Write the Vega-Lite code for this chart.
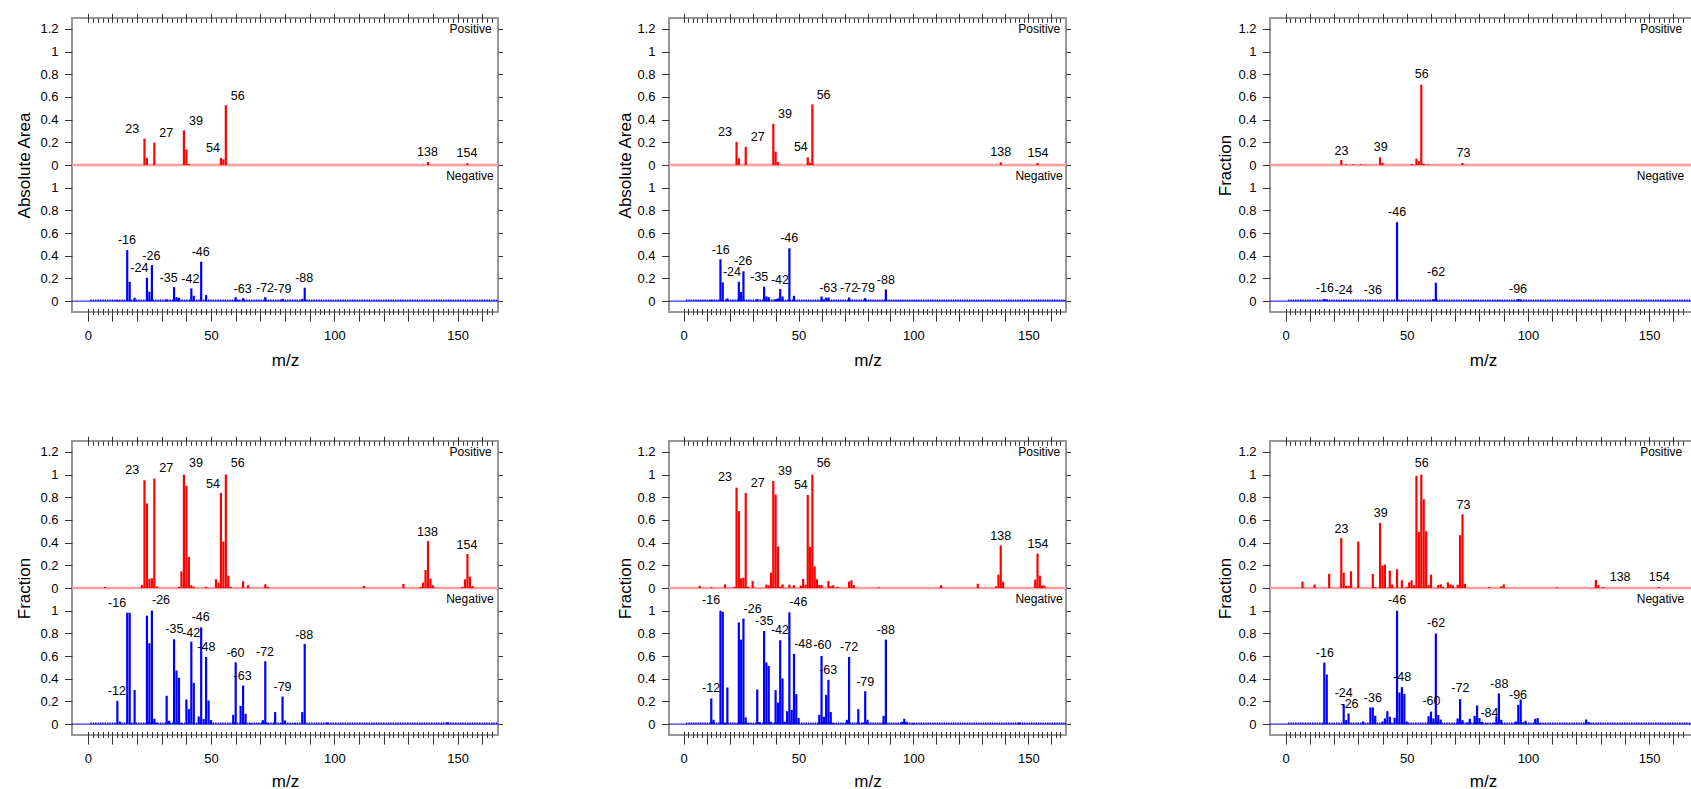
{
  "$schema": "https://vega.github.io/schema/vega-lite/v6.json",
  "padding": {"left": 14, "top": 11, "right": 0, "bottom": 0},
  "background": "white",
  "columns": 5,
  "spacing": {"row": 129, "column": 0},
  "bounds": "flush",
  "datasets": {
    "p1p": [{"mz":23,"v":0.232},{"mz":24,"v":0.062},{"mz":27,"v":0.197},{"mz":39,"v":0.306},{"mz":40,"v":0.135},{"mz":41,"v":0.01},{"mz":54,"v":0.062},{"mz":55,"v":0.05},{"mz":56,"v":0.527},{"mz":138,"v":0.026},{"mz":154,"v":0.015}],
    "p1pl": [{"x":18,"y":0.32,"t":"23"},{"x":31.8,"y":0.285,"t":"27"},{"x":43.9,"y":0.39,"t":"39"},{"x":50.8,"y":0.15,"t":"54"},{"x":60.8,"y":0.61,"t":"56"},{"x":137.8,"y":0.115,"t":"138"},{"x":153.8,"y":0.103,"t":"154"}],
    "p1n": [{"mz":12,"v":0.01},{"mz":16,"v":0.45},{"mz":17,"v":0.17},{"mz":19,"v":0.03},{"mz":24,"v":0.206},{"mz":25,"v":0.082},{"mz":26,"v":0.318},{"mz":32,"v":0.015},{"mz":35,"v":0.124},{"mz":36,"v":0.035},{"mz":37,"v":0.03},{"mz":42,"v":0.112},{"mz":43,"v":0.047},{"mz":46,"v":0.347},{"mz":48,"v":0.053},{"mz":60,"v":0.035},{"mz":61,"v":0.01},{"mz":63,"v":0.026},{"mz":72,"v":0.035},{"mz":79,"v":0.02},{"mz":87,"v":0.02},{"mz":88,"v":0.118}],
    "p1nl": [{"x":15.9,"y":0.535,"t":"-16"},{"x":20.9,"y":0.29,"t":"-24"},{"x":25.8,"y":0.4,"t":"-26"},{"x":32.8,"y":0.2,"t":"-35"},{"x":41.6,"y":0.197,"t":"-42"},{"x":45.8,"y":0.43,"t":"-46"},{"x":62.8,"y":0.11,"t":"-63"},{"x":71.9,"y":0.12,"t":"-72"},{"x":79,"y":0.11,"t":"-79"},{"x":87.8,"y":0.2,"t":"-88"}],
    "p2p": [{"mz":23,"v":0.204},{"mz":24,"v":0.059},{"mz":27,"v":0.16},{"mz":39,"v":0.363},{"mz":40,"v":0.118},{"mz":41,"v":0.027},{"mz":54,"v":0.068},{"mz":55,"v":0.02},{"mz":56,"v":0.534},{"mz":138,"v":0.024},{"mz":154,"v":0.018}],
    "p2pl": [{"x":18,"y":0.292,"t":"23"},{"x":32.2,"y":0.248,"t":"27"},{"x":44.1,"y":0.45,"t":"39"},{"x":51,"y":0.156,"t":"54"},{"x":60.9,"y":0.617,"t":"56"},{"x":138,"y":0.115,"t":"138"},{"x":154.2,"y":0.103,"t":"154"}],
    "p2n": [{"mz":12,"v":0.012},{"mz":16,"v":0.369},{"mz":17,"v":0.165},{"mz":19,"v":0.024},{"mz":24,"v":0.171},{"mz":25,"v":0.08},{"mz":26,"v":0.263},{"mz":32,"v":0.018},{"mz":35,"v":0.127},{"mz":36,"v":0.041},{"mz":37,"v":0.035},{"mz":40,"v":0.018},{"mz":41,"v":0.024},{"mz":42,"v":0.106},{"mz":43,"v":0.041},{"mz":46,"v":0.466},{"mz":48,"v":0.047},{"mz":60,"v":0.041},{"mz":61,"v":0.015},{"mz":62,"v":0.03},{"mz":63,"v":0.032},{"mz":72,"v":0.032},{"mz":79,"v":0.027},{"mz":88,"v":0.103}],
    "p2nl": [{"x":16.1,"y":0.448,"t":"-16"},{"x":21,"y":0.26,"t":"-24"},{"x":25.9,"y":0.354,"t":"-26"},{"x":32.9,"y":0.21,"t":"-35"},{"x":41.9,"y":0.19,"t":"-42"},{"x":45.9,"y":0.555,"t":"-46"},{"x":62.9,"y":0.118,"t":"-63"},{"x":72,"y":0.118,"t":"-72"},{"x":79.3,"y":0.118,"t":"-79"},{"x":88,"y":0.19,"t":"-88"}],
    "p3p": [{"mz":23,"v":0.044},{"mz":25,"v":0.006},{"mz":28,"v":0.006},{"mz":31,"v":0.006},{"mz":39,"v":0.068},{"mz":40,"v":0.02},{"mz":52,"v":0.008},{"mz":54,"v":0.056},{"mz":55,"v":0.035},{"mz":56,"v":0.708},{"mz":57,"v":0.012},{"mz":59,"v":0.006},{"mz":73,"v":0.018}],
    "p3pl": [{"x":23.1,"y":0.127,"t":"23"},{"x":39.3,"y":0.156,"t":"39"},{"x":56.2,"y":0.8,"t":"56"},{"x":73.4,"y":0.103,"t":"73"}],
    "p3n": [{"mz":16,"v":0.02},{"mz":17,"v":0.015},{"mz":24,"v":0.008},{"mz":35,"v":0.008},{"mz":46,"v":0.696},{"mz":48,"v":0.008},{"mz":61,"v":0.018},{"mz":62,"v":0.162},{"mz":78,"v":0.008},{"mz":88,"v":0.006},{"mz":96,"v":0.018},{"mz":97,"v":0.015}],
    "p3nl": [{"x":16.2,"y":0.115,"t":"-16"},{"x":24,"y":0.1,"t":"-24"},{"x":36,"y":0.097,"t":"-36"},{"x":46,"y":0.785,"t":"-46"},{"x":62.1,"y":0.254,"t":"-62"},{"x":95.9,"y":0.106,"t":"-96"}],
    "p4p": [{"mz":7,"v":0.01},{"mz":22,"v":0.027},{"mz":23,"v":0.95},{"mz":24,"v":0.746},{"mz":25,"v":0.08},{"mz":26,"v":0.086},{"mz":27,"v":0.965},{"mz":28,"v":0.015},{"mz":37,"v":0.01},{"mz":38,"v":0.147},{"mz":39,"v":1.0},{"mz":40,"v":0.9},{"mz":41,"v":0.274},{"mz":42,"v":0.024},{"mz":43,"v":0.012},{"mz":48,"v":0.01},{"mz":52,"v":0.077},{"mz":53,"v":0.047},{"mz":54,"v":0.838},{"mz":55,"v":0.41},{"mz":56,"v":1.0},{"mz":57,"v":0.109},{"mz":58,"v":0.01},{"mz":63,"v":0.059},{"mz":65,"v":0.024},{"mz":72,"v":0.032},{"mz":73,"v":0.01},{"mz":112,"v":0.018},{"mz":128,"v":0.035},{"mz":135,"v":0.01},{"mz":136,"v":0.047},{"mz":137,"v":0.16},{"mz":138,"v":0.413},{"mz":139,"v":0.083},{"mz":140,"v":0.024},{"mz":152,"v":0.01},{"mz":153,"v":0.077},{"mz":154,"v":0.3},{"mz":155,"v":0.1},{"mz":156,"v":0.018}],
    "p4pl": [{"x":18,"y":1.038,"t":"23"},{"x":31.8,"y":1.059,"t":"27"},{"x":43.9,"y":1.1,"t":"39"},{"x":50.8,"y":0.92,"t":"54"},{"x":60.8,"y":1.1,"t":"56"},{"x":137.8,"y":0.493,"t":"138"},{"x":153.8,"y":0.38,"t":"154"}],
    "p4n": [{"mz":12,"v":0.205},{"mz":13,"v":0.023},{"mz":16,"v":0.982},{"mz":17,"v":0.982},{"mz":19,"v":0.3},{"mz":24,"v":0.956},{"mz":25,"v":0.713},{"mz":26,"v":1.0},{"mz":27,"v":0.047},{"mz":28,"v":0.012},{"mz":32,"v":0.25},{"mz":33,"v":0.03},{"mz":35,"v":0.748},{"mz":36,"v":0.472},{"mz":37,"v":0.408},{"mz":38,"v":0.01},{"mz":40,"v":0.217},{"mz":41,"v":0.132},{"mz":42,"v":0.727},{"mz":43,"v":0.364},{"mz":45,"v":0.067},{"mz":46,"v":0.853},{"mz":47,"v":0.044},{"mz":48,"v":0.592},{"mz":49,"v":0.208},{"mz":50,"v":0.035},{"mz":59,"v":0.082},{"mz":60,"v":0.545},{"mz":62,"v":0.161},{"mz":63,"v":0.34},{"mz":64,"v":0.091},{"mz":66,"v":0.01},{"mz":71,"v":0.035},{"mz":72,"v":0.554},{"mz":73,"v":0.012},{"mz":76,"v":0.106},{"mz":79,"v":0.243},{"mz":80,"v":0.032},{"mz":84,"v":0.01},{"mz":87,"v":0.106},{"mz":88,"v":0.707},{"mz":97,"v":0.015},{"mz":146,"v":0.018}],
    "p4nl": [{"x":11.8,"y":0.29,"t":"-12"},{"x":11.9,"y":1.07,"t":"-16"},{"x":29.7,"y":1.09,"t":"-26"},{"x":35.1,"y":0.836,"t":"-35"},{"x":41.9,"y":0.8,"t":"-42"},{"x":45.8,"y":0.944,"t":"-46"},{"x":48.1,"y":0.68,"t":"-48"},{"x":59.9,"y":0.63,"t":"-60"},{"x":62.8,"y":0.42,"t":"-63"},{"x":71.9,"y":0.64,"t":"-72"},{"x":79,"y":0.33,"t":"-79"},{"x":87.8,"y":0.79,"t":"-88"}],
    "p5p": [{"mz":7,"v":0.02},{"mz":12,"v":0.008},{"mz":18,"v":0.032},{"mz":22,"v":0.01},{"mz":23,"v":0.885},{"mz":24,"v":0.678},{"mz":25,"v":0.086},{"mz":26,"v":0.091},{"mz":27,"v":0.838},{"mz":28,"v":0.01},{"mz":30,"v":0.062},{"mz":36,"v":0.03},{"mz":37,"v":0.024},{"mz":38,"v":0.136},{"mz":39,"v":0.944},{"mz":40,"v":0.823},{"mz":41,"v":0.366},{"mz":42,"v":0.01},{"mz":43,"v":0.032},{"mz":46,"v":0.03},{"mz":48,"v":0.024},{"mz":51,"v":0.02},{"mz":52,"v":0.08},{"mz":53,"v":0.03},{"mz":54,"v":0.82},{"mz":55,"v":0.363},{"mz":56,"v":1.0},{"mz":57,"v":0.19},{"mz":58,"v":0.077},{"mz":59,"v":0.027},{"mz":60,"v":0.027},{"mz":63,"v":0.062},{"mz":64,"v":0.015},{"mz":65,"v":0.024},{"mz":67,"v":0.01},{"mz":72,"v":0.056},{"mz":73,"v":0.068},{"mz":74,"v":0.027},{"mz":85,"v":0.006},{"mz":112,"v":0.024},{"mz":128,"v":0.038},{"mz":136,"v":0.015},{"mz":137,"v":0.118},{"mz":138,"v":0.375},{"mz":139,"v":0.056},{"mz":153,"v":0.074},{"mz":154,"v":0.304},{"mz":155,"v":0.109},{"mz":156,"v":0.024},{"mz":157,"v":0.02}],
    "p5pl": [{"x":18,"y":0.976,"t":"23"},{"x":32.2,"y":0.926,"t":"27"},{"x":44.1,"y":1.03,"t":"39"},{"x":51,"y":0.906,"t":"54"},{"x":60.9,"y":1.1,"t":"56"},{"x":138,"y":0.457,"t":"138"},{"x":154.2,"y":0.39,"t":"154"}],
    "p5n": [{"mz":12,"v":0.226},{"mz":13,"v":0.038},{"mz":16,"v":1.0},{"mz":17,"v":0.99},{"mz":18,"v":0.012},{"mz":19,"v":0.323},{"mz":24,"v":0.897},{"mz":25,"v":0.745},{"mz":26,"v":0.93},{"mz":27,"v":0.059},{"mz":28,"v":0.01},{"mz":32,"v":0.305},{"mz":33,"v":0.018},{"mz":35,"v":0.821},{"mz":36,"v":0.543},{"mz":37,"v":0.513},{"mz":38,"v":0.02},{"mz":40,"v":0.3},{"mz":41,"v":0.19},{"mz":42,"v":0.739},{"mz":43,"v":0.402},{"mz":44,"v":0.02},{"mz":45,"v":0.114},{"mz":46,"v":0.985},{"mz":47,"v":0.126},{"mz":48,"v":0.619},{"mz":49,"v":0.264},{"mz":50,"v":0.053},{"mz":59,"v":0.082},{"mz":60,"v":0.601},{"mz":61,"v":0.065},{"mz":62,"v":0.258},{"mz":63,"v":0.39},{"mz":64,"v":0.106},{"mz":65,"v":0.01},{"mz":71,"v":0.038},{"mz":72,"v":0.592},{"mz":76,"v":0.132},{"mz":78,"v":0.012},{"mz":79,"v":0.29},{"mz":80,"v":0.038},{"mz":87,"v":0.073},{"mz":88,"v":0.745},{"mz":95,"v":0.02},{"mz":96,"v":0.047},{"mz":97,"v":0.02},{"mz":100,"v":0.01},{"mz":146,"v":0.015}],
    "p5nl": [{"x":11.9,"y":0.314,"t":"-12"},{"x":11.9,"y":1.09,"t":"-16"},{"x":30,"y":1.018,"t":"-26"},{"x":35.1,"y":0.906,"t":"-35"},{"x":41.9,"y":0.827,"t":"-42"},{"x":49.9,"y":1.076,"t":"-46"},{"x":52,"y":0.71,"t":"-48"},{"x":60.4,"y":0.695,"t":"-60"},{"x":62.9,"y":0.478,"t":"-63"},{"x":72,"y":0.677,"t":"-72"},{"x":79,"y":0.372,"t":"-79"},{"x":88,"y":0.827,"t":"-88"}],
    "p6p": [{"mz":7,"v":0.056},{"mz":12,"v":0.03},{"mz":18,"v":0.124},{"mz":23,"v":0.44},{"mz":24,"v":0.136},{"mz":25,"v":0.02},{"mz":26,"v":0.02},{"mz":27,"v":0.147},{"mz":30,"v":0.41},{"mz":36,"v":0.124},{"mz":37,"v":0.008},{"mz":39,"v":0.575},{"mz":40,"v":0.198},{"mz":41,"v":0.206},{"mz":43,"v":0.153},{"mz":44,"v":0.03},{"mz":46,"v":0.165},{"mz":48,"v":0.068},{"mz":50,"v":0.008},{"mz":51,"v":0.05},{"mz":52,"v":0.068},{"mz":53,"v":0.024},{"mz":54,"v":0.988},{"mz":55,"v":0.493},{"mz":56,"v":1.0},{"mz":57,"v":0.782},{"mz":58,"v":0.5},{"mz":59,"v":0.024},{"mz":60,"v":0.118},{"mz":63,"v":0.027},{"mz":64,"v":0.032},{"mz":65,"v":0.01},{"mz":67,"v":0.05},{"mz":68,"v":0.032},{"mz":69,"v":0.024},{"mz":71,"v":0.03},{"mz":72,"v":0.466},{"mz":73,"v":0.65},{"mz":74,"v":0.038},{"mz":84,"v":0.008},{"mz":89,"v":0.015},{"mz":90,"v":0.032},{"mz":112,"v":0.006},{"mz":128,"v":0.071},{"mz":129,"v":0.027},{"mz":131,"v":0.008},{"mz":154,"v":0.008}],
    "p6pl": [{"x":23.1,"y":0.522,"t":"23"},{"x":39.3,"y":0.664,"t":"39"},{"x":56.2,"y":1.1,"t":"56"},{"x":73.4,"y":0.735,"t":"73"},{"x":138,"y":0.094,"t":"138"},{"x":154.1,"y":0.094,"t":"154"}],
    "p6n": [{"mz":16,"v":0.543},{"mz":17,"v":0.437},{"mz":24,"v":0.173},{"mz":25,"v":0.035},{"mz":26,"v":0.094},{"mz":32,"v":0.023},{"mz":35,"v":0.147},{"mz":36,"v":0.147},{"mz":37,"v":0.073},{"mz":40,"v":0.023},{"mz":41,"v":0.05},{"mz":42,"v":0.114},{"mz":43,"v":0.065},{"mz":45,"v":0.056},{"mz":46,"v":1.0},{"mz":47,"v":0.279},{"mz":48,"v":0.326},{"mz":49,"v":0.267},{"mz":50,"v":0.023},{"mz":59,"v":0.07},{"mz":60,"v":0.11},{"mz":61,"v":0.05},{"mz":62,"v":0.798},{"mz":63,"v":0.08},{"mz":64,"v":0.04},{"mz":71,"v":0.05},{"mz":72,"v":0.22},{"mz":73,"v":0.035},{"mz":75,"v":0.015},{"mz":76,"v":0.047},{"mz":78,"v":0.073},{"mz":79,"v":0.164},{"mz":80,"v":0.053},{"mz":81,"v":0.02},{"mz":83,"v":0.008},{"mz":86,"v":0.012},{"mz":87,"v":0.065},{"mz":88,"v":0.27},{"mz":89,"v":0.038},{"mz":95,"v":0.023},{"mz":96,"v":0.17},{"mz":97,"v":0.217},{"mz":98,"v":0.015},{"mz":99,"v":0.03},{"mz":103,"v":0.047},{"mz":104,"v":0.053},{"mz":105,"v":0.01},{"mz":124,"v":0.041},{"mz":125,"v":0.018}],
    "p6nl": [{"x":16.2,"y":0.63,"t":"-16"},{"x":24,"y":0.27,"t":"-24"},{"x":26.4,"y":0.179,"t":"-26"},{"x":36,"y":0.226,"t":"-36"},{"x":46,"y":1.09,"t":"-46"},{"x":48.1,"y":0.416,"t":"-48"},{"x":60.2,"y":0.2,"t":"-60"},{"x":62.1,"y":0.889,"t":"-62"},{"x":72.1,"y":0.314,"t":"-72"},{"x":84.1,"y":0.094,"t":"-84"},{"x":88.2,"y":0.358,"t":"-88"},{"x":95.9,"y":0.261,"t":"-96"}]
  },
  "concat": [
    {
      "width": 426, "height": 294,
      "resolve": {"scale": {"y": "independent"}, "axis": {"x": "independent", "y": "independent"}},
      "layer": [
        {"layer": [
          {"data": {"values": [{}]}, "mark": {"type": "rule", "stroke": "#0000ff", "strokeWidth": 1},
           "encoding": {"y": {"datum": 0, "type": "quantitative", "scale": {"domain": [-0.096, 2.496], "nice": false, "zero": false},
             "axis": {"orient": "left", "tickCount": 500, "values": [0,0.2,0.4,0.6,0.8,1,1.2,1.4,1.6,1.8,2,2.2,2.4], "labelExpr": "datum.value > 1.1 ? format(datum.value - 1.2, '.1~f') : format(datum.value, '.1~f')", "tickSize": 7.5, "labelPadding": 6.5, "labelFontSize": 13, "labelOverlap": false, "labelFlush": false, "minExtent": 32, "maxExtent": 32, "title": "Absolute Area", "titleFontSize": 17, "titlePadding": 6.3}}}},
          {"data": {"values": [{}]}, "mark": {"type": "rule", "stroke": "#0000ff", "strokeWidth": 1.6, "strokeDash": [1.4, 1]},
           "encoding": {"x": {"datum": 1, "type": "quantitative", "scale": {"domain": [-6.4, 166.4], "nice": false, "zero": false},
             "axis": {"orient": "bottom", "tickCount": 500, "values": [0,2,4,6,8,10,12,14,16,18,20,22,24,26,28,30,32,34,36,38,40,42,44,46,48,50,52,54,56,58,60,62,64,66,68,70,72,74,76,78,80,82,84,86,88,90,92,94,96,98,100,102,104,106,108,110,112,114,116,118,120,122,124,126,128,130,132,134,136,138,140,142,144,146,148,150,152,154,156,158,160,162,164], "offset": -3.5, "tickSize": {"condition": {"test": "datum.value % 10 === 0", "value": 12.6}, "value": 6}, "labelExpr": "datum.value % 50 === 0 ? format(datum.value, 'd') : ''", "labelFontSize": 13, "labelPadding": 8, "labelOverlap": false, "labelFlush": false, "minExtent": 30, "maxExtent": 30, "title": "m/z", "titleFontSize": 17, "titlePadding": 14}},
             "x2": {"datum": 166.4}, "y": {"datum": 0.008, "type": "quantitative"}}},
          {"data": {"name": "p1n"}, "mark": {"type": "rule", "stroke": "#0000ff", "strokeWidth": 2.2},
           "encoding": {"x": {"field": "mz", "type": "quantitative"}, "y": {"field": "v", "type": "quantitative"}, "y2": {"datum": 0}}},
          {"data": {"name": "p1nl"}, "mark": {"type": "text", "fontSize": 12.5, "baseline": "middle"},
           "encoding": {"x": {"field": "x", "type": "quantitative"}, "y": {"field": "y", "type": "quantitative"}, "text": {"field": "t"}}},
          {"data": {"values": [{}]}, "mark": {"type": "text", "fontSize": 12, "align": "right", "baseline": "middle"},
           "encoding": {"x": {"datum": 163.8, "type": "quantitative"}, "y": {"datum": 2.4, "type": "quantitative"}, "text": {"value": "Positive"}}},
          {"data": {"values": [{}]}, "mark": {"type": "text", "fontSize": 12, "align": "right", "baseline": "middle"},
           "encoding": {"x": {"datum": 164.6, "type": "quantitative"}, "y": {"datum": 1.103, "type": "quantitative"}, "text": {"value": "Negative"}}}
        ]},
        {"layer": [
          {"data": {"values": [{}]}, "mark": {"type": "rule", "stroke": "#ff9c9c", "strokeWidth": 2.5},
           "encoding": {"y": {"datum": 0, "type": "quantitative", "scale": {"domain": [-1.296, 1.296], "nice": false, "zero": false},
             "axis": {"orient": "right", "tickCount": 500, "values": [-1.2,-1,-0.8,-0.6,-0.4,-0.2,0,0.2,0.4,0.6,0.8,1,1.2], "labels": false, "tickSize": 4.5, "title": null}}}},
          {"data": {"name": "p1p"}, "mark": {"type": "rule", "stroke": "#ff0000", "strokeWidth": 2.2},
           "encoding": {"x": {"field": "mz", "type": "quantitative", "scale": {"domain": [-6.4, 166.4], "nice": false, "zero": false},
             "axis": {"orient": "top", "tickCount": 500, "values": [0,2,4,6,8,10,12,14,16,18,20,22,24,26,28,30,32,34,36,38,40,42,44,46,48,50,52,54,56,58,60,62,64,66,68,70,72,74,76,78,80,82,84,86,88,90,92,94,96,98,100,102,104,106,108,110,112,114,116,118,120,122,124,126,128,130,132,134,136,138,140,142,144,146,148,150,152,154,156,158,160,162,164], "offset": -4.3, "tickSize": {"condition": {"test": "datum.value % 10 === 0", "value": 9}, "value": 4.3}, "labels": false, "title": null}},
             "y": {"field": "v", "type": "quantitative"}, "y2": {"datum": 0}}},
          {"data": {"name": "p1pl"}, "mark": {"type": "text", "fontSize": 12.5, "baseline": "middle"},
           "encoding": {"x": {"field": "x", "type": "quantitative"}, "y": {"field": "y", "type": "quantitative"}, "text": {"field": "t"}}}
        ]}
      ]
    },
    {"width": 171, "height": 294, "data": {"values": [{}]}, "mark": {"type": "text"}, "encoding": {"text": {"value": ""}}, "view": {"stroke": null}},
    {
      "width": 397, "height": 294,
      "resolve": {"scale": {"y": "independent"}, "axis": {"x": "independent", "y": "independent"}},
      "layer": [
        {"layer": [
          {"data": {"values": [{}]}, "mark": {"type": "rule", "stroke": "#0000ff", "strokeWidth": 1},
           "encoding": {"y": {"datum": 0, "type": "quantitative", "scale": {"domain": [-0.096, 2.496], "nice": false, "zero": false},
             "axis": {"orient": "left", "tickCount": 500, "values": [0,0.2,0.4,0.6,0.8,1,1.2,1.4,1.6,1.8,2,2.2,2.4], "labelExpr": "datum.value > 1.1 ? format(datum.value - 1.2, '.1~f') : format(datum.value, '.1~f')", "tickSize": 7.5, "labelPadding": 6.5, "labelFontSize": 13, "labelOverlap": false, "labelFlush": false, "minExtent": 32, "maxExtent": 32, "title": "Absolute Area", "titleFontSize": 17, "titlePadding": 2.4}}}},
          {"data": {"values": [{}]}, "mark": {"type": "rule", "stroke": "#0000ff", "strokeWidth": 1.6, "strokeDash": [1.4, 0.9]},
           "encoding": {"x": {"datum": 1, "type": "quantitative", "scale": {"domain": [-6.4, 166.4], "nice": false, "zero": false},
             "axis": {"orient": "bottom", "tickCount": 500, "values": [0,2,4,6,8,10,12,14,16,18,20,22,24,26,28,30,32,34,36,38,40,42,44,46,48,50,52,54,56,58,60,62,64,66,68,70,72,74,76,78,80,82,84,86,88,90,92,94,96,98,100,102,104,106,108,110,112,114,116,118,120,122,124,126,128,130,132,134,136,138,140,142,144,146,148,150,152,154,156,158,160,162,164], "offset": -3.5, "tickSize": {"condition": {"test": "datum.value % 10 === 0", "value": 12.6}, "value": 6}, "labelExpr": "datum.value % 50 === 0 ? format(datum.value, 'd') : ''", "labelFontSize": 13, "labelPadding": 8, "labelOverlap": false, "labelFlush": false, "minExtent": 30, "maxExtent": 30, "title": "m/z", "titleFontSize": 17, "titlePadding": 14}},
             "x2": {"datum": 166.4}, "y": {"datum": 0.008, "type": "quantitative"}}},
          {"data": {"name": "p2n"}, "mark": {"type": "rule", "stroke": "#0000ff", "strokeWidth": 2.2},
           "encoding": {"x": {"field": "mz", "type": "quantitative"}, "y": {"field": "v", "type": "quantitative"}, "y2": {"datum": 0}}},
          {"data": {"name": "p2nl"}, "mark": {"type": "text", "fontSize": 12.5, "baseline": "middle"},
           "encoding": {"x": {"field": "x", "type": "quantitative"}, "y": {"field": "y", "type": "quantitative"}, "text": {"field": "t"}}},
          {"data": {"values": [{}]}, "mark": {"type": "text", "fontSize": 12, "align": "right", "baseline": "middle"},
           "encoding": {"x": {"datum": 163.9, "type": "quantitative"}, "y": {"datum": 2.4, "type": "quantitative"}, "text": {"value": "Positive"}}},
          {"data": {"values": [{}]}, "mark": {"type": "text", "fontSize": 12, "align": "right", "baseline": "middle"},
           "encoding": {"x": {"datum": 165, "type": "quantitative"}, "y": {"datum": 1.103, "type": "quantitative"}, "text": {"value": "Negative"}}}
        ]},
        {"layer": [
          {"data": {"values": [{}]}, "mark": {"type": "rule", "stroke": "#ff9c9c", "strokeWidth": 2.5},
           "encoding": {"y": {"datum": 0, "type": "quantitative", "scale": {"domain": [-1.296, 1.296], "nice": false, "zero": false},
             "axis": {"orient": "right", "tickCount": 500, "values": [-1.2,-1,-0.8,-0.6,-0.4,-0.2,0,0.2,0.4,0.6,0.8,1,1.2], "labels": false, "tickSize": 4.5, "title": null}}}},
          {"data": {"name": "p2p"}, "mark": {"type": "rule", "stroke": "#ff0000", "strokeWidth": 2.2},
           "encoding": {"x": {"field": "mz", "type": "quantitative", "scale": {"domain": [-6.4, 166.4], "nice": false, "zero": false},
             "axis": {"orient": "top", "tickCount": 500, "values": [0,2,4,6,8,10,12,14,16,18,20,22,24,26,28,30,32,34,36,38,40,42,44,46,48,50,52,54,56,58,60,62,64,66,68,70,72,74,76,78,80,82,84,86,88,90,92,94,96,98,100,102,104,106,108,110,112,114,116,118,120,122,124,126,128,130,132,134,136,138,140,142,144,146,148,150,152,154,156,158,160,162,164], "offset": -4.3, "tickSize": {"condition": {"test": "datum.value % 10 === 0", "value": 9}, "value": 4.3}, "labels": false, "title": null}},
             "y": {"field": "v", "type": "quantitative"}, "y2": {"datum": 0}}},
          {"data": {"name": "p2pl"}, "mark": {"type": "text", "fontSize": 12.5, "baseline": "middle"},
           "encoding": {"x": {"field": "x", "type": "quantitative"}, "y": {"field": "y", "type": "quantitative"}, "text": {"field": "t"}}}
        ]}
      ]
    },
    {"width": 204, "height": 294, "data": {"values": [{}]}, "mark": {"type": "text"}, "encoding": {"text": {"value": ""}}, "view": {"stroke": null}},
    {
      "width": 426, "height": 294,
      "resolve": {"scale": {"y": "independent"}, "axis": {"x": "independent", "y": "independent"}},
      "layer": [
        {"layer": [
          {"data": {"values": [{}]}, "mark": {"type": "rule", "stroke": "#0000ff", "strokeWidth": 1},
           "encoding": {"y": {"datum": 0, "type": "quantitative", "scale": {"domain": [-0.096, 2.496], "nice": false, "zero": false},
             "axis": {"orient": "left", "tickCount": 500, "values": [0,0.2,0.4,0.6,0.8,1,1.2,1.4,1.6,1.8,2,2.2,2.4], "labelExpr": "datum.value > 1.1 ? format(datum.value - 1.2, '.1~f') : format(datum.value, '.1~f')", "tickSize": 7.5, "labelPadding": 6.5, "labelFontSize": 13, "labelOverlap": false, "labelFlush": false, "minExtent": 32, "maxExtent": 32, "title": "Fraction", "titleFontSize": 17, "titlePadding": 3.6}}}},
          {"data": {"values": [{}]}, "mark": {"type": "rule", "stroke": "#0000ff", "strokeWidth": 1.6, "strokeDash": [1.4, 1]},
           "encoding": {"x": {"datum": 1, "type": "quantitative", "scale": {"domain": [-6.4, 169.3], "nice": false, "zero": false},
             "axis": {"orient": "bottom", "tickCount": 500, "values": [0,2,4,6,8,10,12,14,16,18,20,22,24,26,28,30,32,34,36,38,40,42,44,46,48,50,52,54,56,58,60,62,64,66,68,70,72,74,76,78,80,82,84,86,88,90,92,94,96,98,100,102,104,106,108,110,112,114,116,118,120,122,124,126,128,130,132,134,136,138,140,142,144,146,148,150,152,154,156,158,160,162,164], "offset": -3.5, "tickSize": {"condition": {"test": "datum.value % 10 === 0", "value": 12.6}, "value": 6}, "labelExpr": "datum.value % 50 === 0 ? format(datum.value, 'd') : ''", "labelFontSize": 13, "labelPadding": 8, "labelOverlap": false, "labelFlush": false, "minExtent": 30, "maxExtent": 30, "title": "m/z", "titleFontSize": 17, "titlePadding": 14}},
             "x2": {"datum": 169.3}, "y": {"datum": 0.008, "type": "quantitative"}}},
          {"data": {"name": "p3n"}, "mark": {"type": "rule", "stroke": "#0000ff", "strokeWidth": 2.2},
           "encoding": {"x": {"field": "mz", "type": "quantitative"}, "y": {"field": "v", "type": "quantitative"}, "y2": {"datum": 0}}},
          {"data": {"name": "p3nl"}, "mark": {"type": "text", "fontSize": 12.5, "baseline": "middle"},
           "encoding": {"x": {"field": "x", "type": "quantitative"}, "y": {"field": "y", "type": "quantitative"}, "text": {"field": "t"}}},
          {"data": {"values": [{}]}, "mark": {"type": "text", "fontSize": 12, "align": "right", "baseline": "middle"},
           "encoding": {"x": {"datum": 163.6, "type": "quantitative"}, "y": {"datum": 2.4, "type": "quantitative"}, "text": {"value": "Positive"}}},
          {"data": {"values": [{}]}, "mark": {"type": "text", "fontSize": 12, "align": "right", "baseline": "middle"},
           "encoding": {"x": {"datum": 164.4, "type": "quantitative"}, "y": {"datum": 1.103, "type": "quantitative"}, "text": {"value": "Negative"}}}
        ]},
        {"layer": [
          {"data": {"values": [{}]}, "mark": {"type": "rule", "stroke": "#ff9c9c", "strokeWidth": 2.5},
           "encoding": {"y": {"datum": 0, "type": "quantitative", "scale": {"domain": [-1.296, 1.296], "nice": false, "zero": false},
             "axis": {"orient": "right", "tickCount": 500, "values": [-1.2,-1,-0.8,-0.6,-0.4,-0.2,0,0.2,0.4,0.6,0.8,1,1.2], "labels": false, "tickSize": 4.5, "title": null}}}},
          {"data": {"name": "p3p"}, "mark": {"type": "rule", "stroke": "#ff0000", "strokeWidth": 2.2},
           "encoding": {"x": {"field": "mz", "type": "quantitative", "scale": {"domain": [-6.4, 169.3], "nice": false, "zero": false},
             "axis": {"orient": "top", "tickCount": 500, "values": [0,2,4,6,8,10,12,14,16,18,20,22,24,26,28,30,32,34,36,38,40,42,44,46,48,50,52,54,56,58,60,62,64,66,68,70,72,74,76,78,80,82,84,86,88,90,92,94,96,98,100,102,104,106,108,110,112,114,116,118,120,122,124,126,128,130,132,134,136,138,140,142,144,146,148,150,152,154,156,158,160,162,164], "offset": -4.3, "tickSize": {"condition": {"test": "datum.value % 10 === 0", "value": 9}, "value": 4.3}, "labels": false, "title": null}},
             "y": {"field": "v", "type": "quantitative"}, "y2": {"datum": 0}}},
          {"data": {"name": "p3pl"}, "mark": {"type": "text", "fontSize": 12.5, "baseline": "middle"},
           "encoding": {"x": {"field": "x", "type": "quantitative"}, "y": {"field": "y", "type": "quantitative"}, "text": {"field": "t"}}}
        ]}
      ]
    },
    {
      "width": 426, "height": 294,
      "resolve": {"scale": {"y": "independent"}, "axis": {"x": "independent", "y": "independent"}},
      "layer": [
        {"layer": [
          {"data": {"values": [{}]}, "mark": {"type": "rule", "stroke": "#0000ff", "strokeWidth": 1},
           "encoding": {"y": {"datum": 0, "type": "quantitative", "scale": {"domain": [-0.096, 2.496], "nice": false, "zero": false},
             "axis": {"orient": "left", "tickCount": 500, "values": [0,0.2,0.4,0.6,0.8,1,1.2,1.4,1.6,1.8,2,2.2,2.4], "labelExpr": "datum.value > 1.1 ? format(datum.value - 1.2, '.1~f') : format(datum.value, '.1~f')", "tickSize": 7.5, "labelPadding": 6.5, "labelFontSize": 13, "labelOverlap": false, "labelFlush": false, "minExtent": 32, "maxExtent": 32, "title": "Fraction", "titleFontSize": 17, "titlePadding": 6.3}}}},
          {"data": {"values": [{}]}, "mark": {"type": "rule", "stroke": "#0000ff", "strokeWidth": 1.6, "strokeDash": [1.4, 1]},
           "encoding": {"x": {"datum": 1, "type": "quantitative", "scale": {"domain": [-6.4, 166.4], "nice": false, "zero": false},
             "axis": {"orient": "bottom", "tickCount": 500, "values": [0,2,4,6,8,10,12,14,16,18,20,22,24,26,28,30,32,34,36,38,40,42,44,46,48,50,52,54,56,58,60,62,64,66,68,70,72,74,76,78,80,82,84,86,88,90,92,94,96,98,100,102,104,106,108,110,112,114,116,118,120,122,124,126,128,130,132,134,136,138,140,142,144,146,148,150,152,154,156,158,160,162,164], "offset": -3.5, "tickSize": {"condition": {"test": "datum.value % 10 === 0", "value": 12.6}, "value": 6}, "labelExpr": "datum.value % 50 === 0 ? format(datum.value, 'd') : ''", "labelFontSize": 13, "labelPadding": 8, "labelOverlap": false, "labelFlush": false, "minExtent": 30, "maxExtent": 30, "title": "m/z", "titleFontSize": 17, "titlePadding": 12}},
             "x2": {"datum": 166.4}, "y": {"datum": 0.008, "type": "quantitative"}}},
          {"data": {"name": "p4n"}, "mark": {"type": "rule", "stroke": "#0000ff", "strokeWidth": 2.2},
           "encoding": {"x": {"field": "mz", "type": "quantitative"}, "y": {"field": "v", "type": "quantitative"}, "y2": {"datum": 0}}},
          {"data": {"name": "p4nl"}, "mark": {"type": "text", "fontSize": 12.5, "baseline": "middle"},
           "encoding": {"x": {"field": "x", "type": "quantitative"}, "y": {"field": "y", "type": "quantitative"}, "text": {"field": "t"}}},
          {"data": {"values": [{}]}, "mark": {"type": "text", "fontSize": 12, "align": "right", "baseline": "middle"},
           "encoding": {"x": {"datum": 163.8, "type": "quantitative"}, "y": {"datum": 2.4, "type": "quantitative"}, "text": {"value": "Positive"}}},
          {"data": {"values": [{}]}, "mark": {"type": "text", "fontSize": 12, "align": "right", "baseline": "middle"},
           "encoding": {"x": {"datum": 164.6, "type": "quantitative"}, "y": {"datum": 1.103, "type": "quantitative"}, "text": {"value": "Negative"}}}
        ]},
        {"layer": [
          {"data": {"values": [{}]}, "mark": {"type": "rule", "stroke": "#ff9c9c", "strokeWidth": 2.5},
           "encoding": {"y": {"datum": 0, "type": "quantitative", "scale": {"domain": [-1.296, 1.296], "nice": false, "zero": false},
             "axis": {"orient": "right", "tickCount": 500, "values": [-1.2,-1,-0.8,-0.6,-0.4,-0.2,0,0.2,0.4,0.6,0.8,1,1.2], "labels": false, "tickSize": 4.5, "title": null}}}},
          {"data": {"name": "p4p"}, "mark": {"type": "rule", "stroke": "#ff0000", "strokeWidth": 2.2},
           "encoding": {"x": {"field": "mz", "type": "quantitative", "scale": {"domain": [-6.4, 166.4], "nice": false, "zero": false},
             "axis": {"orient": "top", "tickCount": 500, "values": [0,2,4,6,8,10,12,14,16,18,20,22,24,26,28,30,32,34,36,38,40,42,44,46,48,50,52,54,56,58,60,62,64,66,68,70,72,74,76,78,80,82,84,86,88,90,92,94,96,98,100,102,104,106,108,110,112,114,116,118,120,122,124,126,128,130,132,134,136,138,140,142,144,146,148,150,152,154,156,158,160,162,164], "offset": -4.3, "tickSize": {"condition": {"test": "datum.value % 10 === 0", "value": 9}, "value": 4.3}, "labels": false, "title": null}},
             "y": {"field": "v", "type": "quantitative"}, "y2": {"datum": 0}}},
          {"data": {"name": "p4pl"}, "mark": {"type": "text", "fontSize": 12.5, "baseline": "middle"},
           "encoding": {"x": {"field": "x", "type": "quantitative"}, "y": {"field": "y", "type": "quantitative"}, "text": {"field": "t"}}}
        ]}
      ]
    },
    {"width": 171, "height": 294, "data": {"values": [{}]}, "mark": {"type": "text"}, "encoding": {"text": {"value": ""}}, "view": {"stroke": null}},
    {
      "width": 397, "height": 294,
      "resolve": {"scale": {"y": "independent"}, "axis": {"x": "independent", "y": "independent"}},
      "layer": [
        {"layer": [
          {"data": {"values": [{}]}, "mark": {"type": "rule", "stroke": "#0000ff", "strokeWidth": 1},
           "encoding": {"y": {"datum": 0, "type": "quantitative", "scale": {"domain": [-0.096, 2.496], "nice": false, "zero": false},
             "axis": {"orient": "left", "tickCount": 500, "values": [0,0.2,0.4,0.6,0.8,1,1.2,1.4,1.6,1.8,2,2.2,2.4], "labelExpr": "datum.value > 1.1 ? format(datum.value - 1.2, '.1~f') : format(datum.value, '.1~f')", "tickSize": 7.5, "labelPadding": 6.5, "labelFontSize": 13, "labelOverlap": false, "labelFlush": false, "minExtent": 32, "maxExtent": 32, "title": "Fraction", "titleFontSize": 17, "titlePadding": 2.4}}}},
          {"data": {"values": [{}]}, "mark": {"type": "rule", "stroke": "#0000ff", "strokeWidth": 1.6, "strokeDash": [1.4, 0.9]},
           "encoding": {"x": {"datum": 1, "type": "quantitative", "scale": {"domain": [-6.4, 166.4], "nice": false, "zero": false},
             "axis": {"orient": "bottom", "tickCount": 500, "values": [0,2,4,6,8,10,12,14,16,18,20,22,24,26,28,30,32,34,36,38,40,42,44,46,48,50,52,54,56,58,60,62,64,66,68,70,72,74,76,78,80,82,84,86,88,90,92,94,96,98,100,102,104,106,108,110,112,114,116,118,120,122,124,126,128,130,132,134,136,138,140,142,144,146,148,150,152,154,156,158,160,162,164], "offset": -3.5, "tickSize": {"condition": {"test": "datum.value % 10 === 0", "value": 12.6}, "value": 6}, "labelExpr": "datum.value % 50 === 0 ? format(datum.value, 'd') : ''", "labelFontSize": 13, "labelPadding": 8, "labelOverlap": false, "labelFlush": false, "minExtent": 30, "maxExtent": 30, "title": "m/z", "titleFontSize": 17, "titlePadding": 12}},
             "x2": {"datum": 166.4}, "y": {"datum": 0.008, "type": "quantitative"}}},
          {"data": {"name": "p5n"}, "mark": {"type": "rule", "stroke": "#0000ff", "strokeWidth": 2.2},
           "encoding": {"x": {"field": "mz", "type": "quantitative"}, "y": {"field": "v", "type": "quantitative"}, "y2": {"datum": 0}}},
          {"data": {"name": "p5nl"}, "mark": {"type": "text", "fontSize": 12.5, "baseline": "middle"},
           "encoding": {"x": {"field": "x", "type": "quantitative"}, "y": {"field": "y", "type": "quantitative"}, "text": {"field": "t"}}},
          {"data": {"values": [{}]}, "mark": {"type": "text", "fontSize": 12, "align": "right", "baseline": "middle"},
           "encoding": {"x": {"datum": 163.9, "type": "quantitative"}, "y": {"datum": 2.4, "type": "quantitative"}, "text": {"value": "Positive"}}},
          {"data": {"values": [{}]}, "mark": {"type": "text", "fontSize": 12, "align": "right", "baseline": "middle"},
           "encoding": {"x": {"datum": 165, "type": "quantitative"}, "y": {"datum": 1.103, "type": "quantitative"}, "text": {"value": "Negative"}}}
        ]},
        {"layer": [
          {"data": {"values": [{}]}, "mark": {"type": "rule", "stroke": "#ff9c9c", "strokeWidth": 2.5},
           "encoding": {"y": {"datum": 0, "type": "quantitative", "scale": {"domain": [-1.296, 1.296], "nice": false, "zero": false},
             "axis": {"orient": "right", "tickCount": 500, "values": [-1.2,-1,-0.8,-0.6,-0.4,-0.2,0,0.2,0.4,0.6,0.8,1,1.2], "labels": false, "tickSize": 4.5, "title": null}}}},
          {"data": {"name": "p5p"}, "mark": {"type": "rule", "stroke": "#ff0000", "strokeWidth": 2.2},
           "encoding": {"x": {"field": "mz", "type": "quantitative", "scale": {"domain": [-6.4, 166.4], "nice": false, "zero": false},
             "axis": {"orient": "top", "tickCount": 500, "values": [0,2,4,6,8,10,12,14,16,18,20,22,24,26,28,30,32,34,36,38,40,42,44,46,48,50,52,54,56,58,60,62,64,66,68,70,72,74,76,78,80,82,84,86,88,90,92,94,96,98,100,102,104,106,108,110,112,114,116,118,120,122,124,126,128,130,132,134,136,138,140,142,144,146,148,150,152,154,156,158,160,162,164], "offset": -4.3, "tickSize": {"condition": {"test": "datum.value % 10 === 0", "value": 9}, "value": 4.3}, "labels": false, "title": null}},
             "y": {"field": "v", "type": "quantitative"}, "y2": {"datum": 0}}},
          {"data": {"name": "p5pl"}, "mark": {"type": "text", "fontSize": 12.5, "baseline": "middle"},
           "encoding": {"x": {"field": "x", "type": "quantitative"}, "y": {"field": "y", "type": "quantitative"}, "text": {"field": "t"}}}
        ]}
      ]
    },
    {"width": 204, "height": 294, "data": {"values": [{}]}, "mark": {"type": "text"}, "encoding": {"text": {"value": ""}}, "view": {"stroke": null}},
    {
      "width": 426, "height": 294,
      "resolve": {"scale": {"y": "independent"}, "axis": {"x": "independent", "y": "independent"}},
      "layer": [
        {"layer": [
          {"data": {"values": [{}]}, "mark": {"type": "rule", "stroke": "#0000ff", "strokeWidth": 1},
           "encoding": {"y": {"datum": 0, "type": "quantitative", "scale": {"domain": [-0.096, 2.496], "nice": false, "zero": false},
             "axis": {"orient": "left", "tickCount": 500, "values": [0,0.2,0.4,0.6,0.8,1,1.2,1.4,1.6,1.8,2,2.2,2.4], "labelExpr": "datum.value > 1.1 ? format(datum.value - 1.2, '.1~f') : format(datum.value, '.1~f')", "tickSize": 7.5, "labelPadding": 6.5, "labelFontSize": 13, "labelOverlap": false, "labelFlush": false, "minExtent": 32, "maxExtent": 32, "title": "Fraction", "titleFontSize": 17, "titlePadding": 3.6}}}},
          {"data": {"values": [{}]}, "mark": {"type": "rule", "stroke": "#0000ff", "strokeWidth": 1.6, "strokeDash": [1.4, 1]},
           "encoding": {"x": {"datum": 1, "type": "quantitative", "scale": {"domain": [-6.4, 169.3], "nice": false, "zero": false},
             "axis": {"orient": "bottom", "tickCount": 500, "values": [0,2,4,6,8,10,12,14,16,18,20,22,24,26,28,30,32,34,36,38,40,42,44,46,48,50,52,54,56,58,60,62,64,66,68,70,72,74,76,78,80,82,84,86,88,90,92,94,96,98,100,102,104,106,108,110,112,114,116,118,120,122,124,126,128,130,132,134,136,138,140,142,144,146,148,150,152,154,156,158,160,162,164], "offset": -3.5, "tickSize": {"condition": {"test": "datum.value % 10 === 0", "value": 12.6}, "value": 6}, "labelExpr": "datum.value % 50 === 0 ? format(datum.value, 'd') : ''", "labelFontSize": 13, "labelPadding": 8, "labelOverlap": false, "labelFlush": false, "minExtent": 30, "maxExtent": 30, "title": "m/z", "titleFontSize": 17, "titlePadding": 12}},
             "x2": {"datum": 169.3}, "y": {"datum": 0.008, "type": "quantitative"}}},
          {"data": {"name": "p6n"}, "mark": {"type": "rule", "stroke": "#0000ff", "strokeWidth": 2.2},
           "encoding": {"x": {"field": "mz", "type": "quantitative"}, "y": {"field": "v", "type": "quantitative"}, "y2": {"datum": 0}}},
          {"data": {"name": "p6nl"}, "mark": {"type": "text", "fontSize": 12.5, "baseline": "middle"},
           "encoding": {"x": {"field": "x", "type": "quantitative"}, "y": {"field": "y", "type": "quantitative"}, "text": {"field": "t"}}},
          {"data": {"values": [{}]}, "mark": {"type": "text", "fontSize": 12, "align": "right", "baseline": "middle"},
           "encoding": {"x": {"datum": 163.6, "type": "quantitative"}, "y": {"datum": 2.4, "type": "quantitative"}, "text": {"value": "Positive"}}},
          {"data": {"values": [{}]}, "mark": {"type": "text", "fontSize": 12, "align": "right", "baseline": "middle"},
           "encoding": {"x": {"datum": 164.4, "type": "quantitative"}, "y": {"datum": 1.103, "type": "quantitative"}, "text": {"value": "Negative"}}}
        ]},
        {"layer": [
          {"data": {"values": [{}]}, "mark": {"type": "rule", "stroke": "#ff9c9c", "strokeWidth": 2.5},
           "encoding": {"y": {"datum": 0, "type": "quantitative", "scale": {"domain": [-1.296, 1.296], "nice": false, "zero": false},
             "axis": {"orient": "right", "tickCount": 500, "values": [-1.2,-1,-0.8,-0.6,-0.4,-0.2,0,0.2,0.4,0.6,0.8,1,1.2], "labels": false, "tickSize": 4.5, "title": null}}}},
          {"data": {"name": "p6p"}, "mark": {"type": "rule", "stroke": "#ff0000", "strokeWidth": 2.2},
           "encoding": {"x": {"field": "mz", "type": "quantitative", "scale": {"domain": [-6.4, 169.3], "nice": false, "zero": false},
             "axis": {"orient": "top", "tickCount": 500, "values": [0,2,4,6,8,10,12,14,16,18,20,22,24,26,28,30,32,34,36,38,40,42,44,46,48,50,52,54,56,58,60,62,64,66,68,70,72,74,76,78,80,82,84,86,88,90,92,94,96,98,100,102,104,106,108,110,112,114,116,118,120,122,124,126,128,130,132,134,136,138,140,142,144,146,148,150,152,154,156,158,160,162,164], "offset": -4.3, "tickSize": {"condition": {"test": "datum.value % 10 === 0", "value": 9}, "value": 4.3}, "labels": false, "title": null}},
             "y": {"field": "v", "type": "quantitative"}, "y2": {"datum": 0}}},
          {"data": {"name": "p6pl"}, "mark": {"type": "text", "fontSize": 12.5, "baseline": "middle"},
           "encoding": {"x": {"field": "x", "type": "quantitative"}, "y": {"field": "y", "type": "quantitative"}, "text": {"field": "t"}}}
        ]}
      ]
    }
  ],
  "config": {
    "font": "Liberation Sans",
    "view": {"stroke": "#999999", "strokeWidth": 2},
    "axis": {"grid": false, "domain": false, "tickColor": "#333333", "tickWidth": 1, "labelColor": "#000000", "titleColor": "#000000", "titleFontWeight": "normal", "labelFont": "Liberation Sans", "titleFont": "Liberation Sans"},
    "text": {"color": "#000000"}
  }
}
